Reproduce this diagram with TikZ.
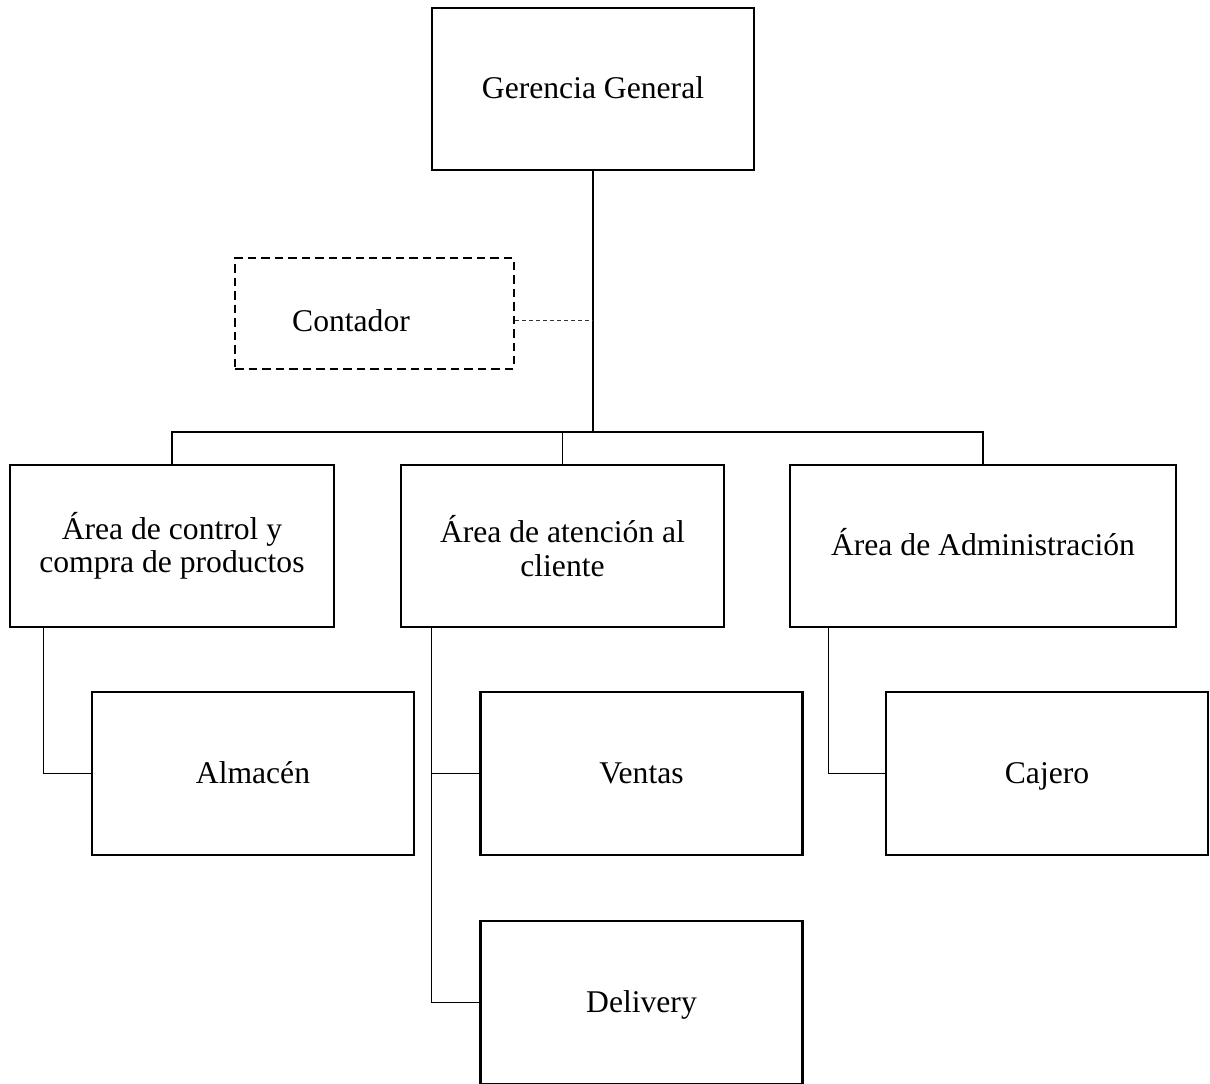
\documentclass[tikz,border=0pt]{standalone}
\usepackage{fontspec}
\setmainfont{Liberation Serif}
\usetikzlibrary{positioning}

\begin{document}
\begin{tikzpicture}[x=0.02cm,y=-0.02cm,line width=0.7pt]
\tikzstyle{every node}=[font=\fontsize{18}{19}\selectfont]
\tikzstyle{unit}=[draw,line width=1.4pt,rectangle,minimum height=3.24cm]
\tikzstyle{oneline}=[text height=14.6pt,text depth=3.4pt]
\tikzstyle{subunit}=[draw,line width=1.4pt,rectangle,minimum width=6.44cm,minimum height=3.26cm,oneline]
\tikzstyle{staff}=[draw,line width=1.4pt,rectangle,dash pattern=on 0.17cm off 0.1cm,minimum width=5.58cm,minimum height=2.22cm]
\tikzstyle{dotline}=[line width=0.7pt,draw=black!80,dash pattern=on 0.08cm off 0.06cm]

\useasboundingbox (0,0) rectangle (1210,1083);

\node[unit,oneline,minimum width=6.44cm] (gg) at (593,89) {Gerencia General};
\node[staff] (cont) at (374.5,313.5) {\hspace*{-0.94cm}\raisebox{-0.15cm}[\height][\depth]{Contador}};

\node[unit,align=center,minimum width=6.48cm] (a1) at (172,546) {Área de control y\\compra de productos};
\node[unit,align=center,minimum width=6.46cm] (a2) at (562.5,546) {Área de atención al\\cliente};
\node[unit,oneline,minimum width=7.72cm] (a3) at (983,546) {Área de Administración};

\node[subunit] (alm) at (253,773.5) {Almacén};
\node[subunit] (ven) at (641.5,773.5) {Ventas};
\node[subunit] (del) at (641.5,1002.5) {Delivery};
\node[subunit] (caj) at (1047,773.5) {Cajero};

\coordinate (hub) at (593,432);

\draw (gg.south) -- (hub);
\draw[dotline] ([yshift=-0.14cm]cont.east) -- ([yshift=-0.14cm]cont.east -| hub);
\draw (a1.north) -- (a1.north |- hub) -- (a3.north |- hub) -- (a3.north);
\draw (a2.north) -- (a2.north |- hub);

\draw ([xshift=0.7cm]a1.south west) |- (alm.west);
\draw ([xshift=0.64cm]a2.south west) |- (ven.west);
\draw ([xshift=0.64cm]a2.south west) |- (del.west);
\draw ([xshift=0.8cm]a3.south west) |- (caj.west);

%\draw[black!10,thin,step=1cm] (0,0) grid (1210,1083);
\end{tikzpicture}
\end{document}
